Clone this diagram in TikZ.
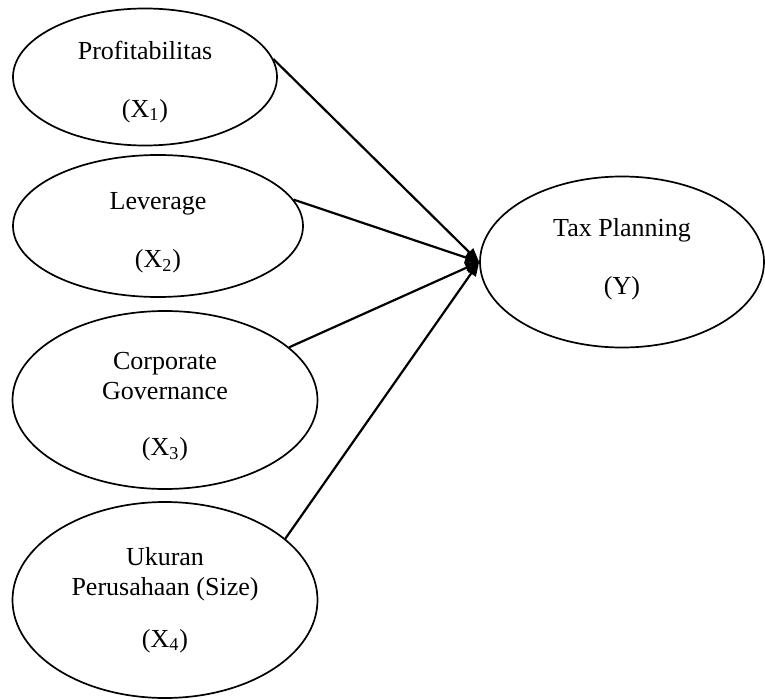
\documentclass[tikz,border=0pt]{standalone}
\usepackage{fontspec}
\setmainfont{Liberation Serif}
\usetikzlibrary{arrows.meta, shapes.geometric, positioning}

\newcommand{\uplift}[1]{\rule{0pt}{#1}}

\begin{document}
\begin{tikzpicture}[
      x=0.5pt, y=-0.5pt,
      var/.style = {draw, ellipse, inner sep=0pt, line width=0.85pt,
                    align=center, font=\fontsize{13}{15}\selectfont},
      arr/.style = {-{Triangle[length=7pt, width=5.5pt]}, line width=1.1pt}
    ]
    \useasboundingbox (0,0) rectangle (765,700);

    % ---- LEFT COLUMN: independent variables ----
    \node[var, minimum width=132pt, minimum height=68.5pt] (prof) at (145,77)
        {\uplift{14pt}Profitabilitas\\[14pt](X\textsubscript{1})};
    \node[var, minimum width=145pt, minimum height=71pt] (lev) at (158,226)
        {\uplift{15pt}Leverage\\[14pt](X\textsubscript{2})};
    \node[var, minimum width=152.5pt, minimum height=89pt] (gov) at (165,400)
        {\uplift{15pt}Corporate\\Governance\\[13pt](X\textsubscript{3})};
    \node[var, minimum width=152.5pt, minimum height=98pt] (size) at (165,600)
        {Ukuran\\Perusahaan (Size)\\[11pt](X\textsubscript{4})};

    % ---- RIGHT: dependent variable ----
    \node[var, minimum width=142pt, minimum height=85.5pt] (tax) at (622,262)
        {Tax Planning\\[14pt](Y)\rule[-6pt]{0pt}{0pt}};

    % ---- Arrows into Y ----
    \draw[arr] (prof.8)  -- (tax.west);
    \draw[arr] (lev.11)  -- (tax.west);
    \draw[arr] (gov.23)  -- (tax.west);
    \draw[arr] (size.27) -- (tax.west);

  \end{tikzpicture}
\end{document}
